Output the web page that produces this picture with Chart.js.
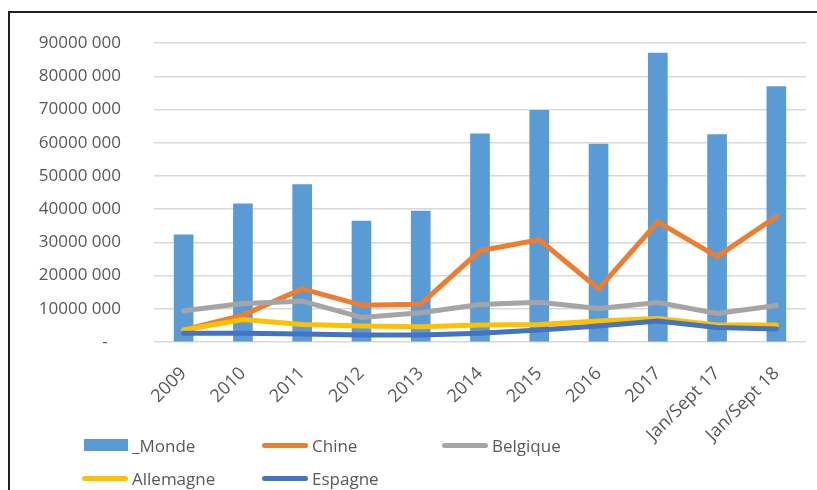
<!DOCTYPE html>
<html>
<head>
<meta charset="utf-8">
<script src="https://cdn.jsdelivr.net/npm/chart.js@4.4.1/dist/chart.umd.min.js"></script>
<style>
    html, body { margin: 0; padding: 0; background: #fff; overflow: hidden; }
    #wrap { position: relative; width: 817px; height: 490px; }
    #frame { position: absolute; left: 8px; top: 11px; width: 830px; height: 500px; border: 2px solid #222; box-sizing: border-box; }
    #myChart { position: absolute; left: 0; top: 0; }
    .legend-item { position: absolute; display: flex; align-items: center; font-family: "Open Sans", sans-serif; font-size: 17px; color: #595959; height: 24px; }
    .swatch { width: 46px; margin-right: 4px; }
    .swatch.line { height: 5px; border-radius: 3px; }
    .swatch.box { width: 44px; height: 12px; margin-left: 2px; margin-right: 4px; }
</style>
</head>
<body>
<div id="wrap">
    <div id="frame"></div>
    <canvas id="myChart" width="817" height="490"></canvas>
    <div id="legend"></div>
</div>
<script>
const labels = ['2009', '2010', '2011', '2012', '2013', '2014', '2015', '2016', '2017', 'Jan/Sept 17', 'Jan/Sept 18'];

const monde     = [32300000, 41600000, 47400000, 36400000, 39400000, 62700000, 69800000, 59600000, 87000000, 62500000, 76900000];
const chine     = [3600000, 8100000, 16000000, 11100000, 11400000, 27500000, 30800000, 16000000, 36200000, 25700000, 37800000];
const belgique  = [9400000, 11600000, 12300000, 7400000, 8800000, 11300000, 12000000, 10100000, 11900000, 8600000, 11000000];
const allemagne = [3600000, 6800000, 5300000, 4800000, 4600000, 5100000, 5300000, 6300000, 7100000, 5100000, 5100000];
const espagne   = [2600000, 2600000, 2400000, 2100000, 2100000, 2600000, 3600000, 4800000, 6300000, 4400000, 3900000];

const FONT = { family: '"Open Sans", sans-serif', size: 17 };
const TEXT = '#595959';

const lineSet = (label, data, color, order) => ({
    type: 'line',
    label: label,
    data: data,
    borderColor: color,
    backgroundColor: color,
    borderWidth: 5,
    pointRadius: 0,
    tension: 0,
    borderCapStyle: 'round',
    borderJoinStyle: 'round',
    order: order,
});

const datasets = [
    {
        type: 'bar',
        label: '_Monde',
        data: monde,
        backgroundColor: '#5B9BD5',
        barThickness: 19,
        order: 5,
    },
    lineSet('Chine', chine, '#ED7D31', 4),
    lineSet('Belgique', belgique, '#A5A5A5', 3),
    lineSet('Allemagne', allemagne, '#FFC000', 2),
    lineSet('Espagne', espagne, '#4472C4', 1),
];

new Chart(document.getElementById('myChart'), {
    data: { labels: labels, datasets: datasets },
    options: {
        responsive: false,
        animation: false,
        layout: { padding: { left: 0, top: 41, right: 11, bottom: 0 } },
        plugins: { legend: { display: false }, tooltip: { enabled: false } },
        scales: {
            x: {
                grid: { display: false },
                border: { display: false },
                ticks: { color: TEXT, font: { family: FONT.family, size: 18 }, minRotation: 45, maxRotation: 45, padding: 13 },
                afterFit: (scale) => { scale.height = 148; },
            },
            y: {
                min: 0,
                max: 90000000,
                grid: { color: '#D9D9D9', lineWidth: 1.5, drawTicks: false },
                border: { display: false },
                ticks: {
                    stepSize: 10000000,
                    color: TEXT,
                    font: FONT,
                    padding: 33,
                    callback: (value) => value === 0 ? '-   ' : (value / 1000) + ' 000',
                },
                afterFit: (scale) => { scale.width = 154; },
            },
        },
    },
});

// legend, laid out in fixed columns like the original
const legend = document.getElementById('legend');
const cols = [82, 262, 442];
const rows = [433, 466];
datasets.forEach((ds, i) => {
    const item = document.createElement('div');
    item.className = 'legend-item';
    item.style.left = cols[i % 3] + 'px';
    item.style.top = rows[Math.floor(i / 3)] + 'px';
    const sw = document.createElement('span');
    sw.className = 'swatch ' + (ds.type === 'bar' ? 'box' : 'line');
    sw.style.background = ds.type === 'bar' ? ds.backgroundColor : ds.borderColor;
    item.appendChild(sw);
    item.appendChild(document.createTextNode(ds.label));
    legend.appendChild(item);
});
</script>
</body>
</html>
